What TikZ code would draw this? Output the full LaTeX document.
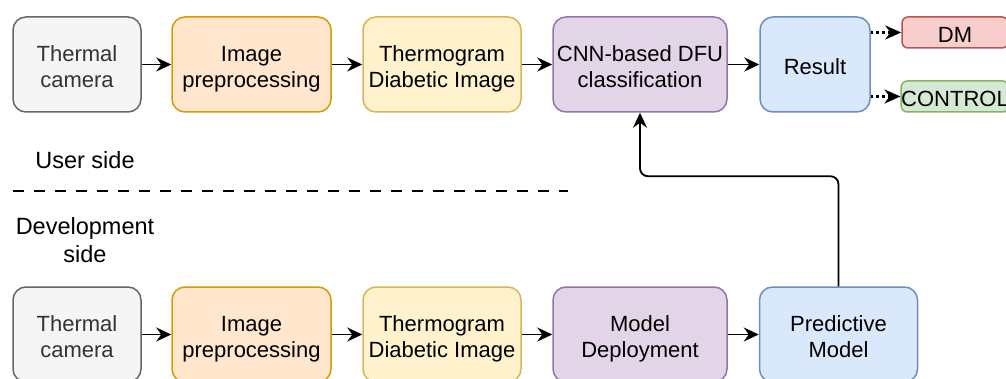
\documentclass[tikz,border=0pt]{standalone}
\usepackage{fontspec}
\setmainfont{Liberation Sans}
\usetikzlibrary{arrows.meta}

\definecolor{grayfill}{HTML}{F5F5F5}\definecolor{graydraw}{HTML}{666666}\definecolor{graytext}{HTML}{333333}
\definecolor{orangefill}{HTML}{FFE6CC}\definecolor{orangedraw}{HTML}{D79B00}
\definecolor{yellowfill}{HTML}{FFF2CC}\definecolor{yellowdraw}{HTML}{D6B656}
\definecolor{purplefill}{HTML}{E1D5E7}\definecolor{purpledraw}{HTML}{9673A6}
\definecolor{bluefill}{HTML}{DAE8FC}\definecolor{bluedraw}{HTML}{6C8EBF}
\definecolor{redfill}{HTML}{F8CECC}\definecolor{reddraw}{HTML}{B85450}
\definecolor{greenfill}{HTML}{D5E8D4}\definecolor{greendraw}{HTML}{82B366}

\tikzset{
  box/.style={rectangle, rounded corners=13pt, line width=1.5pt, minimum height=95pt,
    inner sep=0pt, align=center, font=\fontsize{22}{26}\selectfont,
    text height=46pt, text depth=0pt},
  oneline/.style={text height=19.5pt, text depth=0pt},
  smallbox/.style={box, oneline, rounded corners=6pt, minimum height=31pt, minimum width=106pt},
  graybox/.style={box, fill=grayfill, draw=graydraw, text=graytext},
  orangebox/.style={box, fill=orangefill, draw=orangedraw},
  yellowbox/.style={box, fill=yellowfill, draw=yellowdraw},
  purplebox/.style={box, fill=purplefill, draw=purpledraw},
  bluebox/.style={box, fill=bluefill, draw=bluedraw},
  flow/.style={line width=1.8pt, -{Stealth[length=15pt,width=14pt,inset=5pt]}},
  dotflow/.style={line width=2.6pt, dash pattern=on 2.6pt off 3pt,
    -{Stealth[length=16pt,width=14pt,inset=5pt]}},
  label/.style={inner sep=0pt, align=center, font=\fontsize{23.5}{28}\selectfont}
}

\begin{document}
\begin{tikzpicture}[x=1pt, y=-1pt]
  \useasboundingbox (0,0) rectangle (1006,379);

  % user side pipeline
  \node[graybox,   minimum width=128pt] (tc1) at (77,64.5)    {Thermal\\camera};
  \node[orangebox, minimum width=159pt] (ip1) at (251.5,64.5) {Image\\preprocessing};
  \node[yellowbox, minimum width=158pt] (tg1) at (442,64.5)   {Thermogram\\Diabetic Image};
  \node[purplebox, minimum width=174pt] (cnn) at (640,64.5)   {CNN-based DFU\\classification};
  \node[bluebox, oneline, minimum width=110pt] (res) at (815,64.5) {Result};
  \node[box, smallbox, fill=redfill, draw=reddraw]     (dm)  at (955,32.5) {DM};
  \node[box, smallbox, fill=greenfill, draw=greendraw] (ctl) at (955,96.5) {CONTROL};

  % development side pipeline
  \node[graybox,   minimum width=128pt] (tc2) at (77,334.5)    {Thermal\\camera};
  \node[orangebox, minimum width=159pt] (ip2) at (251.5,334.5) {Image\\preprocessing};
  \node[yellowbox, minimum width=158pt] (tg2) at (442,334.5)   {Thermogram\\Diabetic Image};
  \node[purplebox, minimum width=174pt] (md)  at (640,334.5)   {Model\\Deployment};
  \node[bluebox,   minimum width=158pt] (pm)  at (838.5,334.5) {Predictive\\Model};

  % side labels and separator
  \node[label] (user) at (85,160) {User side};
  \node[label] (dev)  at (85,240) {Development\\side};
  \coordinate (sepL) at (13,191);
  \coordinate (sepR) at (568,191);
  \draw[line width=2.5pt, dash pattern=on 11pt off 10pt] (sepL) -- (sepR);

  % connectors
  \draw[flow] (tc1) -- (ip1);
  \draw[flow] (ip1) -- (tg1);
  \draw[flow] (tg1) -- (cnn);
  \draw[flow] (cnn) -- (res);
  \draw[dotflow] (res.east |- dm.west) -- (dm.west);
  \draw[dotflow] (res.east |- ctl.west) -- (ctl.west);

  \draw[flow] (tc2) -- (ip2);
  \draw[flow] (ip2) -- (tg2);
  \draw[flow] (tg2) -- (md);
  \draw[flow] (md) -- (pm);
  \draw[flow, rounded corners=8pt] (pm.north) -- ++(0,-110) -| (cnn.south);
\end{tikzpicture}
\end{document}
